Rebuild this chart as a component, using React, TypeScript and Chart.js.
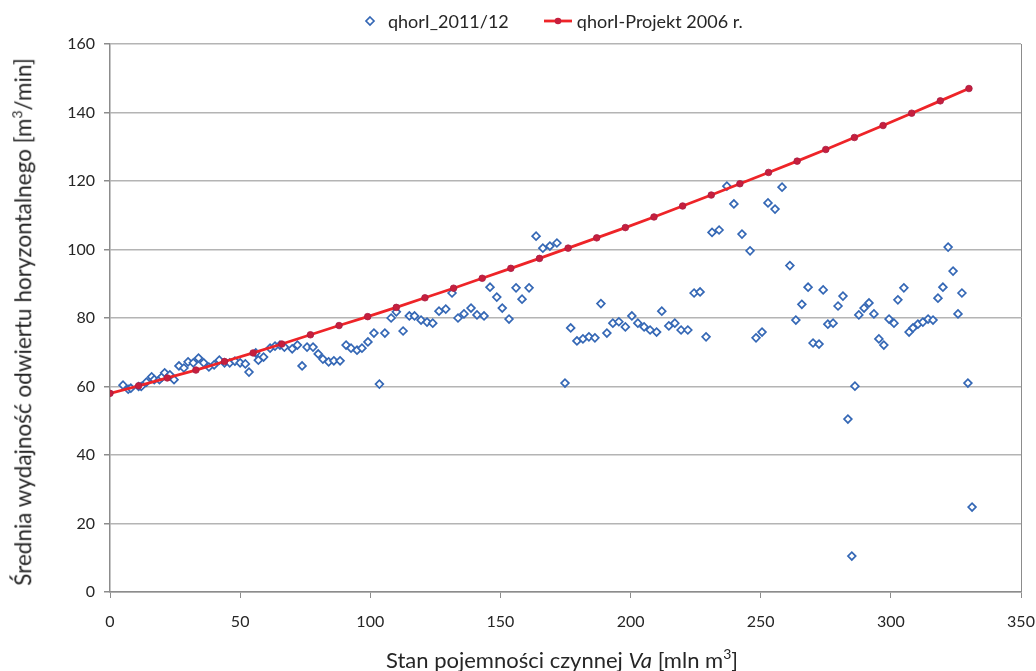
import React, { useEffect, useRef } from "react";
import { Chart, registerables } from "chart.js";

Chart.register(...registerables);

const seriesNames = ["qhorI_2011/12", "qhorI-Projekt 2006 r."];

const scatterX = [
  5, 7, 8, 11, 12, 14, 16, 17, 19, 20, 21, 23, 24.6, 26.5, 28.4, 30, 32, 34, 36, 38, 40, 42, 44, 46, 48, 50, 52, 53.4,
  56, 57, 59, 61.5, 63.4, 65.3, 67, 70, 72, 73.8, 75.7, 78, 80, 81.8, 84, 86, 88.4, 90.7, 92.6, 94.9, 96.8, 99.1,
  101.4, 103.5, 105.6, 108, 110, 112.6, 115, 117, 119.5, 121.8, 124, 126.4, 129, 131.4, 133.7, 136, 138.7, 141,
  143.7, 146, 148.6, 150.7, 153.3, 156, 158.3, 161, 163.7, 166.3, 169, 171.7, 174.8, 177, 179.4, 181.7, 184, 186.3,
  188.6, 190.9, 193.2, 195.5, 198, 200.5, 202.8, 205.2, 207.5, 210, 212, 214.7, 217, 219.4, 222, 224.4, 226.7, 229,
  231.3, 234, 237, 239.7, 242.8, 245.9, 248.2, 250.5, 252.8, 255.5, 258.2, 261.2, 263.5, 265.8, 268.2, 270.1, 272.4,
  274, 275.8, 277.8, 279.7, 281.6, 283.5, 285, 286.2, 287.7, 289.7, 291.6, 293.5, 295.4, 297.3, 299.3, 301.2, 302.7,
  305, 307, 308.5, 310.4, 312.3, 314.3, 316.2, 318.1, 320, 322, 323.9, 325.8, 327.3, 329.6, 331.2,
];
const scatterY = [
  60.4, 59.2, 59.5, 60, 60, 61.3, 62.8, 62, 62, 62.8, 64, 63.4, 62, 66, 65.4, 67.2, 66.9, 68.3, 66.9, 65.7, 66.3, 67.7,
  66.9, 66.9, 67.4, 66.9, 66.6, 64.2, 69.8, 67.7, 68.6, 71.2, 71.8, 72.1, 71.5, 71, 72.1, 66, 71.5, 71.5, 69.5, 68,
  67.2, 67.5, 67.5, 72.1, 71.2, 70.6, 71.2, 73, 75.6, 60.7, 75.6, 80, 81.8, 76.2, 80.6, 80.6, 79.4, 78.8, 78.5, 82,
  82.6, 87.3, 80, 81.2, 82.9, 80.9, 80.6, 89, 86.1, 82.9, 79.7, 88.8, 85.5, 88.8, 103.9, 100.4, 101, 101.9, 61, 77.1,
  73.3, 73.9, 74.5, 74.2, 84.2, 75.6, 78.5, 78.9, 77.4, 80.6, 78.5, 77.4, 76.5, 75.9, 82, 77.7, 78.5, 76.5, 76.5,
  87.3, 87.6, 74.5, 105, 105.7, 118.5, 113.3, 104.5, 99.6, 74.2, 75.9, 113.6, 111.8, 118.2, 95.3, 79.4, 84, 89,
  72.7, 72.4, 88.2, 78.2, 78.5, 83.5, 86.4, 50.5, 10.5, 60.1, 80.9, 82.9, 84.4, 81.2, 73.9, 72.1, 79.7, 78.5, 85.3,
  88.8, 75.9, 77.1, 78.2, 78.8, 79.7, 79.4, 85.8, 89, 100.7, 93.7, 81.2, 87.3, 61, 24.8,
];

const projX = [
  0, 11, 22, 33, 44, 55, 66, 77, 88, 99, 110, 121, 132, 143, 154, 165, 176, 187, 198, 209, 220, 231, 242, 253, 264,
  275, 286, 297, 308, 319, 330,
];
const projY = [
  58, 60.2, 62.5, 64.8, 67.3, 69.8, 72.4, 75.1, 77.8, 80.4, 83.1, 85.9, 88.7, 91.6, 94.5, 97.4, 100.4, 103.4, 106.4,
  109.5, 112.7, 115.9, 119.2, 122.5, 125.8, 129.2, 132.7, 136.2, 139.8, 143.4, 147,
];

const xTicks = [0, 50, 100, 150, 200, 250, 300, 350];
const yTicks = [0, 20, 40, 60, 80, 100, 120, 140, 160];

const FONT = "Lato, 'Open Sans', sans-serif";
const TEXT = "#262626";
const BLUE = "#3467b5";
const RED_LINE = "#ee2428";
const RED_DOT = "#c61f3d";

export default function App() {
  const ref = useRef<HTMLCanvasElement>(null);

  useEffect(() => {
    document.body.style.margin = "0";
    const canvas = ref.current!;
    const chart = new Chart(canvas, {
      type: "scatter",
      data: {
        datasets: [
          {
            label: seriesNames[0],
            data: scatterX.map((x, i) => ({ x, y: scatterY[i] })),
            pointStyle: "rectRot",
            pointRadius: 3.9,
            borderColor: BLUE,
            backgroundColor: "#ffffff",
            borderWidth: 1.7,
            showLine: false,
            order: 1,
          },
          {
            label: seriesNames[1],
            data: projX.map((x, i) => ({ x, y: projY[i] })),
            showLine: true,
            borderColor: RED_LINE,
            borderWidth: 2.8,
            pointRadius: 3.3,
            pointBackgroundColor: RED_DOT,
            pointBorderColor: "#a81d45",
            pointBorderWidth: 0.8,
            order: 0,
          },
        ],
      },
      options: {
        animation: false,
        responsive: false,
        layout: { padding: { left: 0, top: 44, right: 15, bottom: 0 } },
        plugins: {
          legend: { display: false },
          tooltip: { enabled: false },
        },
        scales: {
          x: {
            type: "linear",
            min: 0,
            max: 350,
            afterBuildTicks: (s: any) => {
              s.ticks = xTicks.map((v) => ({ value: v }));
            },
            afterFit: (s: any) => {
              s.height = 79;
              s.paddingLeft = 0;
              s.paddingRight = 0;
            },
            ticks: {
              font: { family: FONT, size: 16 },
              color: TEXT,
              padding: 14,
            },
            grid: {
              color: (c: any) => (c.tick && c.tick.value === 350 ? "#8c8c8c" : "rgba(0,0,0,0)"),
              tickColor: "#8c8c8c",
              tickLength: 6,
              lineWidth: 1,
            },
            border: { display: true, color: "#8c8c8c", width: 1.5 },
          },
          y: {
            type: "linear",
            min: 0,
            max: 160,
            afterBuildTicks: (s: any) => {
              s.ticks = yTicks.map((v) => ({ value: v }));
            },
            afterFit: (s: any) => {
              s.width = 110;
              s.paddingTop = 0;
              s.paddingBottom = 0;
            },
            ticks: {
              font: { family: FONT, size: 16 },
              color: TEXT,
              padding: 9,
            },
            grid: {
              color: "#b4b4b4",
              tickColor: "#8c8c8c",
              tickLength: 6,
              lineWidth: 1.5,
            },
            border: { display: true, color: "#8c8c8c", width: 1.5 },
          },
        },
      },
    });
    return () => chart.destroy();
  }, []);

  return (
    <div style={{ position: "relative", width: 1036, height: 671, background: "#fff", fontFamily: FONT, color: TEXT }}>
      <canvas ref={ref} width={1036} height={671} style={{ display: "block" }} />
      <div
        style={{
          position: "absolute",
          top: 10,
          left: 362,
          display: "flex",
          alignItems: "center",
          fontSize: 18,
          whiteSpace: "nowrap",
        }}
      >
        <svg width="16" height="16" style={{ marginRight: 10 }}>
          <polygon points="8,4 12,8 8,12 4,8" fill="#fff" stroke={BLUE} strokeWidth="1.7" />
        </svg>
        <span>{seriesNames[0]}</span>
        <svg width="30" height="16" style={{ marginLeft: 34, marginRight: 4 }}>
          <line x1="1" y1="8" x2="29" y2="8" stroke={RED_LINE} strokeWidth="2.8" />
          <circle cx="15" cy="8" r="3.3" fill={RED_DOT} />
        </svg>
        <span>{seriesNames[1]}</span>
      </div>
      <div
        style={{
          position: "absolute",
          left: 22,
          top: 322,
          transform: "translate(-50%, -50%) rotate(-90deg)",
          fontSize: 22.5,
          whiteSpace: "nowrap",
        }}
      >
        Średnia wydajność odwiertu horyzontalnego [m<sup style={{ fontSize: 14 }}>3</sup>/min]
      </div>
      <div
        style={{
          position: "absolute",
          left: 562,
          top: 659,
          transform: "translate(-50%, -50%)",
          fontSize: 22,
          whiteSpace: "nowrap",
        }}
      >
        Stan pojemności czynnej <i>Va</i> [mln m<sup style={{ fontSize: 14 }}>3</sup>]
      </div>
    </div>
  );
}
